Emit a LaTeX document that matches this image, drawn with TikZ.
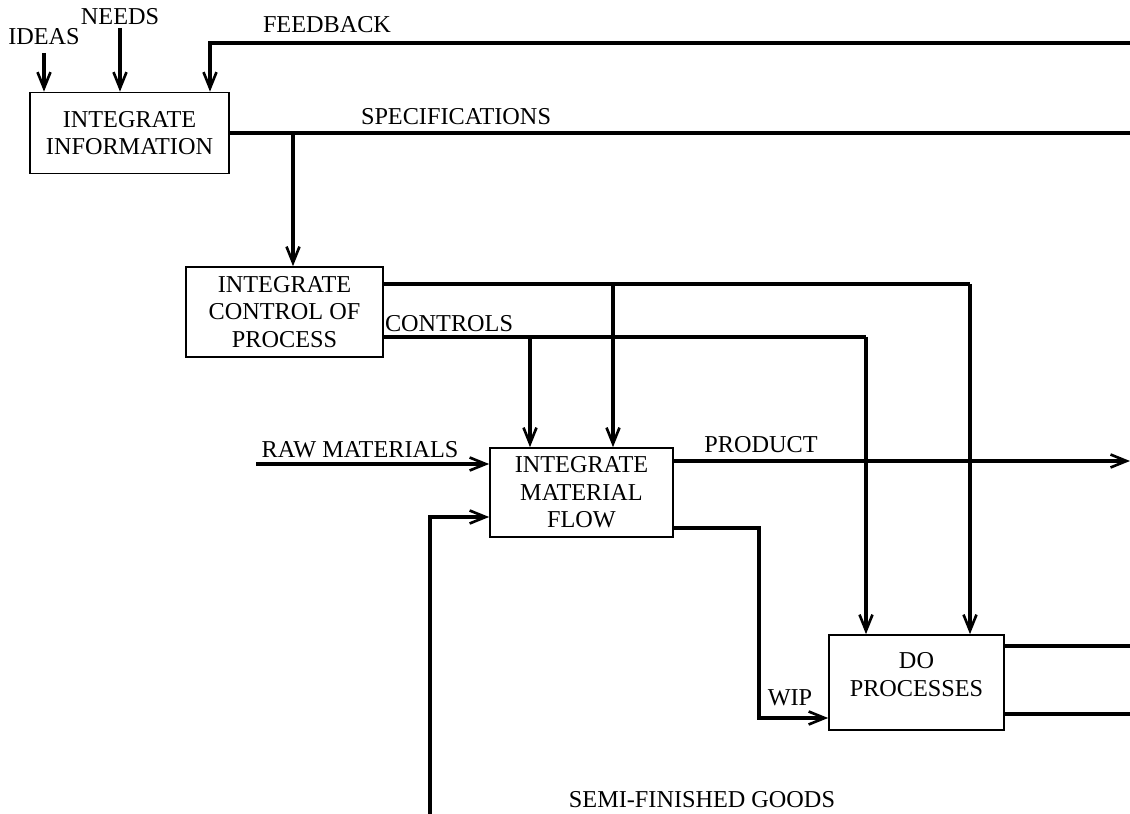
\documentclass[tikz,border=0pt]{standalone}
\usepackage{fontspec}
\setmainfont{Liberation Serif}
\usepackage{tikz}
\usetikzlibrary{arrows.meta}

\begin{document}
\begin{tikzpicture}[
      x=0.02cm, y=-0.02cm,
      font=\fontsize{13.8}{15.6}\selectfont,
      box/.style={draw, line width=1pt, align=center, inner sep=0pt},
      lbl/.style={inner sep=0pt},
      flow/.style={line width=1.8pt},
      >={Straight Barb[length=0.32cm, width=0.26cm, line width=1.5pt]}]
    \useasboundingbox (0,0) rectangle (1130,814);
    % boxes
    \node[box, minimum width=3.98cm, minimum height=1.62cm] (info) at (129.5,133) {INTEGRATE\\INFORMATION};
    \node[box, minimum width=3.94cm, minimum height=1.8cm] (ctrl) at (284.5,312) {INTEGRATE\\CONTROL OF\\PROCESS};
    \node[box, minimum width=3.66cm, minimum height=1.78cm] (matl) at (581.5,492.5) {INTEGRATE\\MATERIAL\\FLOW};
    \node[box, minimum width=3.5cm, minimum height=1.9cm] (proc) at (916.5,682.5) {DO\\PROCESSES\\[-0.23cm]};
    % labels
    \node[lbl] (ideas) at (44,37) {IDEAS};
    \node[lbl] (needs) at (120,17) {NEEDS};
    \node[lbl] (feedback) at (327,25) {FEEDBACK};
    \node[lbl] (specs) at (456,117) {SPECIFICATIONS};
    \node[lbl] (controls) at (449,324) {CONTROLS};
    \node[lbl] (raw) at (360,450) {RAW MATERIALS};
    \node[lbl] (product) at (761,445) {PRODUCT};
    \node[lbl] (wip) at (790,698) {WIP};
    \node[lbl] (semi) at (702,800) {SEMI-FINISHED GOODS};
    % free ends and bends
    \coordinate (fbin) at (1130,43);
    \coordinate (fb) at (210,43);
    \coordinate (specout) at (1130,133);
    \coordinate (sp) at (293,133);
    \coordinate (cR1) at (970,284);
    \coordinate (cB1) at (613,284);
    \coordinate (cR2) at (866,337);
    \coordinate (cB2) at (530,337);
    \coordinate (rawin) at (256,464);
    \coordinate (prodout) at (1130,461);
    \coordinate (w1) at (759,528);
    \coordinate (w2) at (759,718);
    \coordinate (p1) at (1130,646);
    \coordinate (p2) at (1130,714);
    \coordinate (sf) at (430,814);
    \coordinate (sf2) at (430,517);
    % connectors
    \draw[flow, ->] ([yshift=-0.15cm]ideas.south) -- (ideas.south |- info.north);
    \draw[flow, ->] ([yshift=-0.05cm]needs.south) -- (needs.south |- info.north);
    \draw[flow, ->] (fbin) -- (fb) -- (fb |- info.north);
    \draw[flow] (info.east) -- (specout);
    \draw[flow, ->] (sp) -- (sp |- ctrl.north);
    \draw[flow] (cR1 -| ctrl.east) -- (cR1);
    \draw[flow, ->] (cR1) -- (cR1 |- proc.north);
    \draw[flow, ->] (cB1) -- (cB1 |- matl.north);
    \draw[flow] (cR2 -| ctrl.east) -- (cR2);
    \draw[flow, ->] (cR2) -- (cR2 |- proc.north);
    \draw[flow, ->] (cB2) -- (cB2 |- matl.north);
    \draw[flow, ->] (rawin) -- (rawin -| matl.west);
    \draw[flow, ->] (prodout -| matl.east) -- (prodout);
    \draw[flow, ->] (w1 -| matl.east) -- (w1) -- (w2) -- (w2 -| proc.west);
    \draw[flow] (p1 -| proc.east) -- (p1);
    \draw[flow] (p2 -| proc.east) -- (p2);
    \draw[flow, ->] (sf) -- (sf2) -- (sf2 -| matl.west);
  \end{tikzpicture}
\end{document}
